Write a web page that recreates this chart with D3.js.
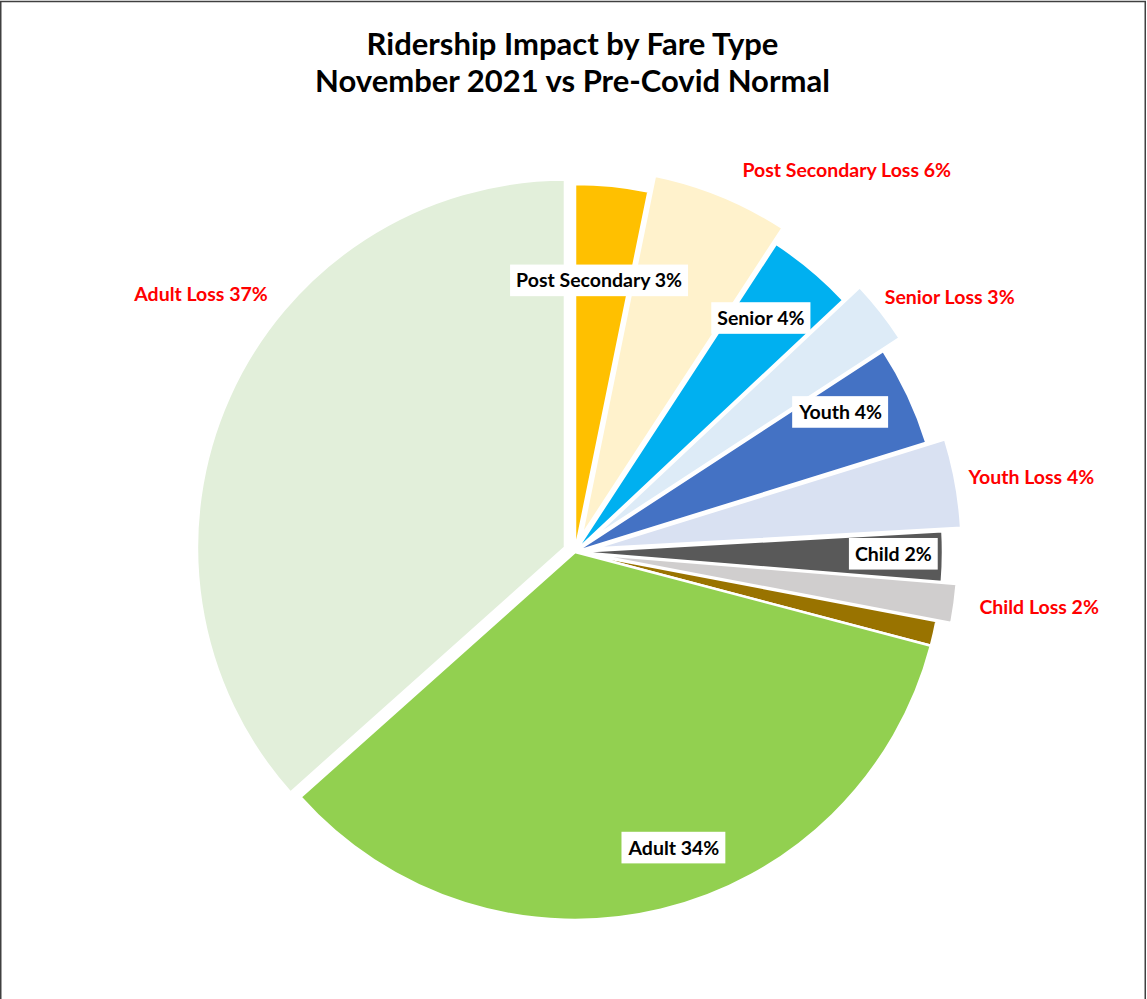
<!DOCTYPE html>
<html>
<head>
<meta charset="utf-8">
<script src="https://cdn.jsdelivr.net/npm/d3@7"></script>
<style>
  html, body { margin: 0; padding: 0; background: #fff; }
  svg { display: block; }
  text { font-family: Lato, "Open Sans", sans-serif; font-weight: 700; }
</style>
</head>
<body>
<svg id="chart" width="1147" height="999"></svg>
<script>
// Fare types, clockwise from 12 o'clock
const categories = ["Post Secondary", "Post Secondary Loss", "Senior", "Senior Loss",
                    "Youth", "Youth Loss", "Child", "Child Loss", "Other", "Adult", "Adult Loss"];
// Share of pre-Covid ridership (%)
const shares = [3.2, 6.0, 3.8, 2.8, 4.4, 3.9, 2.2, 1.7, 1.1, 34.3, 36.6];
// Slices that carry a data label
const labelled = [true, true, true, true, true, true, true, true, false, true, true];
const titleLines = ["Ridership Impact by Fare Type", "November 2021 vs Pre-Covid Normal"];

// ---- styling ----
const fills = {
  "Post Secondary": "#FFC000", "Post Secondary Loss": "#FFF2CC",
  "Senior": "#00B0F0", "Senior Loss": "#DDEBF7",
  "Youth": "#4472C4", "Youth Loss": "#D9E1F2",
  "Child": "#595959", "Child Loss": "#D0CECE",
  "Other": "#997300",
  "Adult": "#92D050", "Adult Loss": "#E2EFDA"
};
// outward pull of the "loss" wedges, px
const explode = {
  "Post Secondary Loss": 17, "Senior Loss": 21, "Youth Loss": 19,
  "Child Loss": 15, "Adult Loss": 11
};
// label placement: [angle nudge from the wedge bisector (deg), distance / radius]
const labelPlace = {
  "Post Secondary": [-0.7, 0.741], "Senior": [-1.5, 0.812], "Youth": [-2.6, 0.816],
  "Child": [-0.4, 0.865], "Adult": [-5.0, 0.847],
  "Post Secondary Loss": [13.1, 1.274], "Senior Loss": [3.9, 1.232],
  "Youth Loss": [0.9, 1.257], "Child Loss": [-1.0, 1.270], "Adult Loss": [10.5, 1.235]
};

const W = 1147, H = 999;
const cx = 575, cy = 552, R = 368;
const svg = d3.select("#chart");

// chart frame
svg.append("rect")
  .attr("x", 0.75).attr("y", 1.5)
  .attr("width", W - 2.5).attr("height", H + 20)
  .attr("fill", "#fff").attr("stroke", "#404040").attr("stroke-width", 1.5);

// title
const title = svg.append("text")
  .attr("text-anchor", "middle")
  .style("font-size", "31px").attr("fill", "#000");
title.selectAll("tspan").data(titleLines).join("tspan")
  .attr("x", W / 2 - 1)
  .attr("y", (d, i) => 55 + i * 37)
  .text(d => d);

const data = categories.map((c, i) => ({ name: c, value: shares[i], label: labelled[i] }));
const pie = d3.pie().sort(null).value(d => d.value).startAngle(0).endAngle(2 * Math.PI);
const arcs = pie(data);
const arc = d3.arc().innerRadius(0).outerRadius(R);
const total = d3.sum(shares);
const pct = d => d3.format(".0f")(d.data.value / total * 100) + "%";

const g = svg.append("g").attr("transform", `translate(${cx},${cy})`);

g.selectAll("path.slice").data(arcs).join("path")
  .attr("class", "slice")
  .attr("d", arc)
  .attr("fill", d => fills[d.data.name])
  .attr("stroke", "#fff")
  .attr("stroke-width", 2.5)
  .attr("stroke-linejoin", "miter")
  .attr("transform", d => {
    const e = explode[d.data.name] || 0;
    const m = (d.startAngle + d.endAngle) / 2;
    return `translate(${Math.sin(m) * e},${-Math.cos(m) * e})`;
  });

function labelPos(d) {
  const [nudge, frac] = labelPlace[d.data.name];
  const a = (d.startAngle + d.endAngle) / 2 + nudge * Math.PI / 180;
  return [Math.sin(a) * frac * R, -Math.cos(a) * frac * R];
}

const isLoss = d => /Loss$/.test(d.data.name);
const lab = g.selectAll("g.lab").data(arcs.filter(d => d.data.label)).join("g")
  .attr("class", "lab")
  .attr("transform", d => `translate(${labelPos(d)})`);

lab.append("text")
  .attr("text-anchor", "middle")
  .attr("dy", "0.36em")
  .style("font-size", "19.5px")
  .attr("fill", d => isLoss(d) ? "#FF0000" : "#000")
  .text(d => `${d.data.name} ${pct(d)}`);

// white boxes behind the in-slice labels
lab.filter(d => !isLoss(d)).each(function () {
  const t = d3.select(this).select("text");
  const bb = t.node().getBBox();
  d3.select(this).insert("rect", "text")
    .attr("x", bb.x - 6).attr("y", -15.8)
    .attr("width", bb.width + 12).attr("height", 31.6)
    .attr("fill", "#fff");
});
</script>
</body>
</html>
